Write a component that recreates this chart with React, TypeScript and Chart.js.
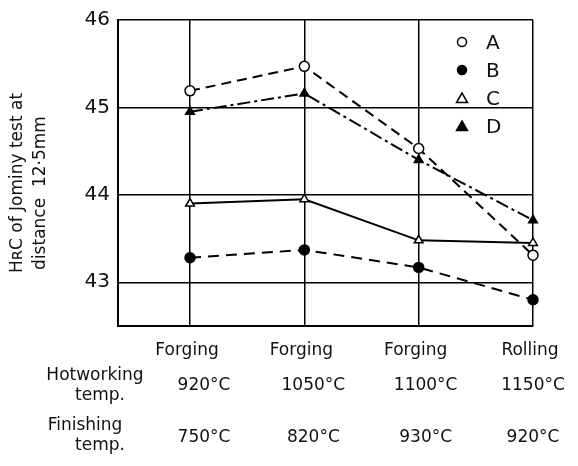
import React, { useEffect, useRef } from "react";
import { Chart, registerables } from "chart.js";

Chart.register(...registerables);

const processes = ["Forging", "Forging", "Forging", "Rolling"];
const hotworkingTemps = ["920°C", "1050°C", "1100°C", "1150°C"];
const finishingTemps = ["750°C", "820°C", "930°C", "920°C"];
const seriesA = [45.19, 45.47, 44.53, 43.31];
const seriesB = [43.28, 43.37, 43.17, 42.8];
const seriesC = [43.9, 43.95, 43.48, 43.45];
const seriesD = [44.95, 45.16, 44.4, 43.71];
const yTicks = [43, 44, 45, 46];
const legendNames = ["A", "B", "C", "D"];

const FONT = "'DejaVu Sans', sans-serif";

const pts = (arr: number[]) => arr.map((y, i) => ({ x: i, y }));

export default function App() {
  const ref = useRef<HTMLCanvasElement | null>(null);
  useEffect(() => {
    if (!ref.current) return;
    const styles = [
      { data: seriesA, style: "circle", fill: "#fff", dash: [10, 6] },
      { data: seriesB, style: "circle", fill: "#000", dash: [11, 7] },
      { data: seriesC, style: "triangle", fill: "#fff", dash: [] as number[] },
      { data: seriesD, style: "triangle", fill: "#000", dash: [13, 4, 3, 4] },
    ];
    const textPlugin = {
      id: "texts",
      afterDraw(chart: any) {
        const ctx = chart.ctx;
        const xs = chart.scales.x;
        ctx.save();
        ctx.fillStyle = "#111";
        ctx.textBaseline = "middle";
        ctx.textAlign = "center";
        ctx.font = `17px ${FONT}`;
        const shift = [14, 9, 7, 0];
        for (let i = 0; i < processes.length; i++) {
          const px = xs.getPixelForValue(i);
          ctx.fillText(processes[i], px - 3, 351);
          ctx.fillText(hotworkingTemps[i], px + shift[i], 386);
          ctx.fillText(finishingTemps[i], px + shift[i], 438);
        }
        ctx.fillText("Hotworking", 95, 376);
        ctx.fillText("temp.", 100, 396);
        ctx.fillText("Finishing", 85, 426);
        ctx.fillText("temp.", 100, 446);
        // legend
        ctx.font = `20px ${FONT}`;
        ctx.textAlign = "left";
        for (let i = 0; i < legendNames.length; i++) {
          const y = 42 + i * 28;
          const s = styles[i];
          ctx.lineWidth = 1.5;
          ctx.strokeStyle = "#000";
          ctx.fillStyle = s.fill;
          ctx.beginPath();
          if (s.style === "circle") {
            ctx.arc(462, y, 4.5, 0, Math.PI * 2);
          } else {
            ctx.moveTo(462, y - 5);
            ctx.lineTo(467.5, y + 4.5);
            ctx.lineTo(456.5, y + 4.5);
            ctx.closePath();
          }
          ctx.fill();
          ctx.stroke();
          ctx.fillStyle = "#111";
          ctx.fillText(legendNames[i], 486, y + 2);
        }
        // y title
        ctx.font = `17px ${FONT}`;
        ctx.textAlign = "center";
        ctx.save();
        ctx.translate(18, 183);
        ctx.rotate(-Math.PI / 2);
        ctx.fillText("HʀC of Jominy test at", 0, 0);
        ctx.restore();
        ctx.save();
        ctx.translate(41, 193);
        ctx.rotate(-Math.PI / 2);
        ctx.fillText("distance  12·5mm", 0, 0);
        ctx.restore();
        ctx.restore();
      },
    };
    const chart = new Chart(ref.current, {
      type: "line",
      data: {
        datasets: styles.map((s, i) => ({
          label: legendNames[i],
          data: pts(s.data),
          borderColor: "#000",
          borderWidth: 2,
          borderDash: s.dash,
          pointStyle: s.style,
          pointRadius: 5,
          pointBackgroundColor: s.fill,
          pointBorderColor: "#000",
          pointBorderWidth: 1.5,
          tension: 0,
          fill: false,
          clip: false,
        })),
      },
      options: {
        animation: false,
        responsive: false,
        maintainAspectRatio: false,
        layout: { padding: { top: 14, right: 45, left: 0, bottom: 0 } },
        plugins: { legend: { display: false }, tooltip: { enabled: false } },
        scales: {
          x: {
            type: "linear",
            min: -0.63,
            max: 3,
            afterBuildTicks: (s: any) => {
              s.ticks = [0, 1, 2, 3].map((v) => ({ value: v }));
            },
            afterFit: (s: any) => {
              s.height = 140;
            },
            ticks: { display: false },
            grid: { color: "#000", lineWidth: 1.5, drawTicks: false },
            border: { color: "#000", width: 2 },
          },
          y: {
            min: 42.5,
            max: 46,
            afterBuildTicks: (s: any) => {
              s.ticks = yTicks.map((v) => ({ value: v }));
            },
            afterFit: (s: any) => {
              s.width = 118;
            },
            ticks: {
              color: "#111",
              padding: 8,
              font: { family: FONT, size: 20 },
            },
            grid: { color: "#000", lineWidth: 1.5, drawTicks: false },
            border: { color: "#000", width: 2 },
          },
        },
      },
      plugins: [textPlugin],
    } as any);
    return () => chart.destroy();
  }, []);
  return (
    <div style={{ position: "fixed", left: 0, top: 0, width: 578, height: 466, background: "#fff" }}>
      <canvas ref={ref} width={578} height={466} />
    </div>
  );
}
